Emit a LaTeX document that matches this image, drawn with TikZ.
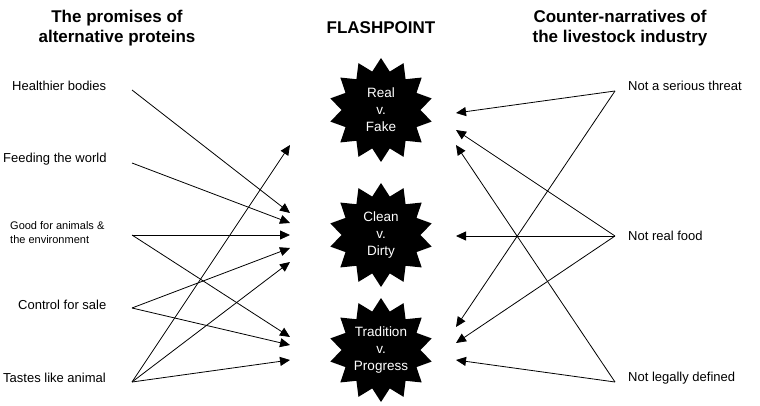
\documentclass[tikz,border=0pt]{standalone}
\usepackage{fontspec}
\setmainfont{Liberation Sans}
\usetikzlibrary{shapes.geometric,arrows.meta}
\begin{document}
\begin{tikzpicture}[x=1pt,y=-1pt,
  lab/.style={anchor=west,font=\fontsize{13}{15}\selectfont,inner sep=0},
  ttl/.style={font=\bfseries\fontsize{17}{20}\selectfont,align=center},
  flash/.style={star,star points=14,star point ratio=1.32,fill=black,minimum size=104pt,inner sep=0},
  ftxt/.style={align=center,text=white,font=\fontsize{13.5}{17}\selectfont},
  arr/.style={-{Triangle[length=10pt,width=9pt]},line width=0.8pt}]
\useasboundingbox (0,0) rectangle (760,406);
\node[ttl] at (117,28) {The promises of\\alternative proteins};
\node[ttl] at (381,28) {FLASHPOINT};
\node[ttl] at (620,28) {Counter-narratives of\\the livestock industry};
\node[flash] (s1) at (381,110) {};
\node[flash] (s2) at (381,235) {};
\node[flash] (s3) at (381,350) {};
\node[ftxt] (t1) at (s1) {Real\\v.\\Fake};
\node[ftxt] (t2) at (s2) {Clean\\v.\\Dirty};
\node[ftxt] (t3) at (s3) {Tradition\\v.\\Progress};
\node[lab] at (12,86) {Healthier bodies};
\node[lab] at (3,159) {Feeding the world};
\node[lab,align=left,font=\fontsize{11}{14}\selectfont] at (10,233) {Good for animals \&\\the environment};
\node[lab] at (18,305) {Control for sale};
\node[lab] at (3,378) {Tastes like animal};
\node[lab] at (628,86) {Not a serious threat};
\node[lab] at (628,236) {Not real food};
\node[lab] at (628,378) {Not legally defined};
\coordinate (L1) at (132,90); \coordinate (L2) at (132,163); \coordinate (L3) at (132,235);
\coordinate (L4) at (132,308); \coordinate (L5) at (132,382);
\coordinate (R1) at (615,91); \coordinate (R2) at (615,236); \coordinate (R3) at (615,382);
\foreach \y/\n in {145/a,213/b,223/c,235/d,248/e,262/f,337/g,345/h,360/i}{\coordinate (T\n) at (290,\y);}
\foreach \y/\n in {113/a,130/b,145/c,236/d,327/e,343/f,360/g}{\coordinate (U\n) at (456,\y);}
\draw[arr] (L1) -- (Tb); \draw[arr] (L2) -- (Tc); \draw[arr] (L3) -- (Td); \draw[arr] (L3) -- (Tg);
\draw[arr] (L4) -- (Te); \draw[arr] (L4) -- (Th);
\draw[arr] (L5) -- (Ta); \draw[arr] (L5) -- (Tf); \draw[arr] (L5) -- (Ti);
\draw[arr] (R1) -- (Ua); \draw[arr] (R1) -- (Ue);
\draw[arr] (R2) -- (Ub); \draw[arr] (R2) -- (Ud); \draw[arr] (R2) -- (Uf);
\draw[arr] (R3) -- (Uc); \draw[arr] (R3) -- (Ug);
\end{tikzpicture}
\end{document}
